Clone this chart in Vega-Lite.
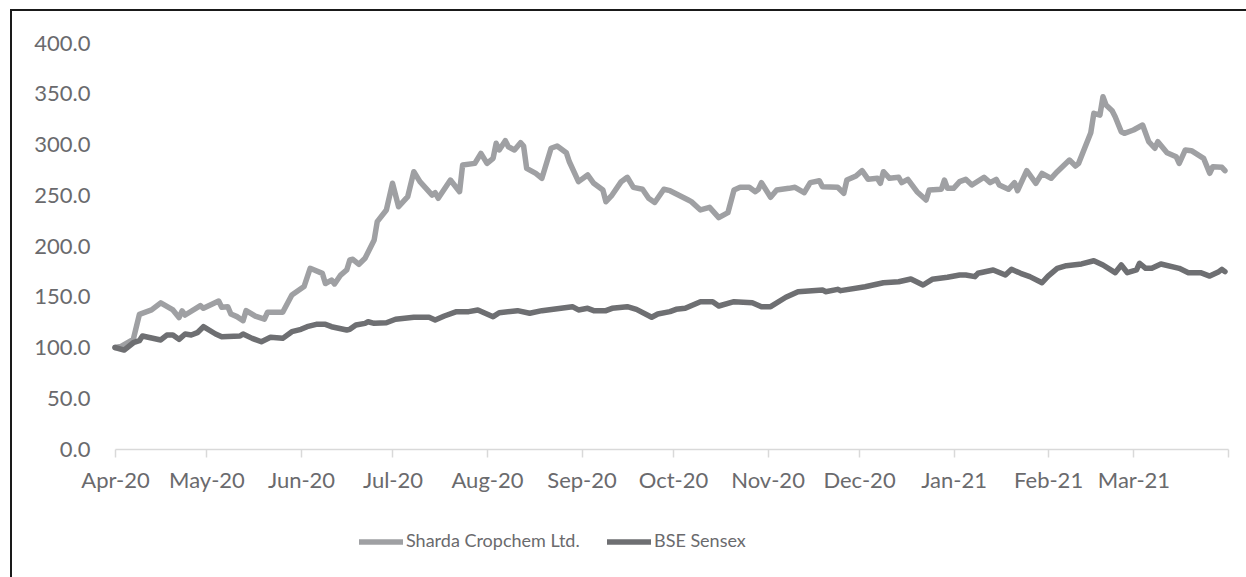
{
"$schema": "https://vega.github.io/schema/vega-lite/v6.json",
"width": 1236, "height": 568,
"autosize": {"type": "none"},
"padding": {"left": 11, "top": 10, "right": 0, "bottom": 0},
"background": "white",
"config": {"view": {"stroke": "#1a1a1a", "strokeWidth": 2}, "font": "Lato"},
"datasets": {
"sharda": [
{"date":"2020-04-01","value":100},{"date":"2020-04-03","value":101},{"date":"2020-04-07","value":108},{"date":"2020-04-09","value":132.7},{"date":"2020-04-13","value":137},{"date":"2020-04-16","value":144},{"date":"2020-04-20","value":137},{"date":"2020-04-22","value":129.4},{"date":"2020-04-23","value":136},{"date":"2020-04-24","value":132},{"date":"2020-04-29","value":141.2},{"date":"2020-04-30","value":138.6},
{"date":"2020-05-05","value":145.8},{"date":"2020-05-06","value":139.6},{"date":"2020-05-08","value":140.2},{"date":"2020-05-09","value":133},{"date":"2020-05-11","value":130.4},{"date":"2020-05-13","value":126.4},{"date":"2020-05-14","value":136.3},{"date":"2020-05-17","value":131},{"date":"2020-05-20","value":128},{"date":"2020-05-21","value":134.7},{"date":"2020-05-26","value":134.7},{"date":"2020-05-29","value":151.7},
{"date":"2020-06-02","value":160},{"date":"2020-06-04","value":178},{"date":"2020-06-08","value":173},{"date":"2020-06-09","value":163},{"date":"2020-06-11","value":166.5},{"date":"2020-06-12","value":162.6},{"date":"2020-06-14","value":171.4},{"date":"2020-06-16","value":176.4},{"date":"2020-06-17","value":186.2},{"date":"2020-06-18","value":186.9},{"date":"2020-06-20","value":182},{"date":"2020-06-22","value":187.9},{"date":"2020-06-25","value":206},{"date":"2020-06-26","value":224},{"date":"2020-06-29","value":235.5},
{"date":"2020-07-01","value":261.8},{"date":"2020-07-03","value":238.7},{"date":"2020-07-06","value":248.6},{"date":"2020-07-08","value":273.2},{"date":"2020-07-10","value":263.4},{"date":"2020-07-14","value":250.2},{"date":"2020-07-15","value":252.5},{"date":"2020-07-16","value":247},{"date":"2020-07-20","value":265},{"date":"2020-07-23","value":253.5},{"date":"2020-07-24","value":279.8},{"date":"2020-07-28","value":281.4},{"date":"2020-07-30","value":291.3},
{"date":"2020-08-01","value":281.4},{"date":"2020-08-03","value":286.4},{"date":"2020-08-04","value":301.2},{"date":"2020-08-05","value":294.6},{"date":"2020-08-07","value":303.8},{"date":"2020-08-08","value":297.8},{"date":"2020-08-10","value":294.6},{"date":"2020-08-12","value":301.8},{"date":"2020-08-13","value":298.5},{"date":"2020-08-14","value":276.5},{"date":"2020-08-17","value":271.6},{"date":"2020-08-19","value":266.7},{"date":"2020-08-22","value":296.3},{"date":"2020-08-24","value":298.5},{"date":"2020-08-27","value":291.9},{"date":"2020-08-28","value":283},{"date":"2020-08-31","value":263.4},
{"date":"2020-09-03","value":270},{"date":"2020-09-05","value":261.8},{"date":"2020-09-08","value":255.2},{"date":"2020-09-09","value":243.6},{"date":"2020-09-11","value":250.2},{"date":"2020-09-14","value":263.4},{"date":"2020-09-16","value":267.7},{"date":"2020-09-18","value":257.8},{"date":"2020-09-21","value":255.9},{"date":"2020-09-23","value":247},{"date":"2020-09-25","value":242.9},{"date":"2020-09-28","value":255.9},{"date":"2020-09-30","value":254.5},
{"date":"2020-10-06","value":245.3},{"date":"2020-10-07","value":243.7},{"date":"2020-10-10","value":235.5},{"date":"2020-10-13","value":238.1},{"date":"2020-10-16","value":227.9},{"date":"2020-10-19","value":232.8},{"date":"2020-10-21","value":255.2},{"date":"2020-10-23","value":257.8},{"date":"2020-10-26","value":257.8},{"date":"2020-10-28","value":253.5},{"date":"2020-10-29","value":255.9},{"date":"2020-10-30","value":262.4},
{"date":"2020-11-02","value":248},{"date":"2020-11-04","value":255.2},{"date":"2020-11-08","value":256.8},{"date":"2020-11-10","value":257.8},{"date":"2020-11-13","value":252.5},{"date":"2020-11-15","value":262.4},{"date":"2020-11-18","value":264.3},{"date":"2020-11-19","value":258.4},{"date":"2020-11-24","value":257.8},{"date":"2020-11-26","value":251.9},{"date":"2020-11-27","value":265},{"date":"2020-11-30","value":269},
{"date":"2020-12-02","value":274.2},{"date":"2020-12-04","value":265.7},{"date":"2020-12-07","value":266.7},{"date":"2020-12-08","value":261.8},{"date":"2020-12-09","value":273.2},{"date":"2020-12-11","value":266.7},{"date":"2020-12-14","value":267.7},{"date":"2020-12-15","value":262.4},{"date":"2020-12-17","value":265.7},{"date":"2020-12-20","value":253.5},{"date":"2020-12-23","value":245.3},{"date":"2020-12-24","value":255.2},{"date":"2020-12-28","value":255.9},{"date":"2020-12-29","value":265},{"date":"2020-12-30","value":256.8},
{"date":"2021-01-01","value":256.8},{"date":"2021-01-03","value":263.4},{"date":"2021-01-05","value":265.7},{"date":"2021-01-07","value":260.1},{"date":"2021-01-11","value":267.7},{"date":"2021-01-13","value":262.4},{"date":"2021-01-15","value":265.7},{"date":"2021-01-16","value":260.1},{"date":"2021-01-19","value":255.9},{"date":"2021-01-21","value":262.4},{"date":"2021-01-22","value":254.5},{"date":"2021-01-25","value":274.2},{"date":"2021-01-28","value":261.8},{"date":"2021-01-30","value":271.6},
{"date":"2021-02-02","value":266.7},{"date":"2021-02-04","value":273.2},{"date":"2021-02-08","value":284.7},{"date":"2021-02-10","value":278.8},{"date":"2021-02-11","value":281.4},{"date":"2021-02-15","value":311.6},{"date":"2021-02-16","value":330.7},{"date":"2021-02-18","value":329},{"date":"2021-02-19","value":347.1},{"date":"2021-02-20","value":338.9},{"date":"2021-02-22","value":333.3},{"date":"2021-02-23","value":327.4},{"date":"2021-02-25","value":312.6},{"date":"2021-02-26","value":311},
{"date":"2021-03-01","value":314.3},{"date":"2021-03-04","value":319.2},{"date":"2021-03-06","value":302.8},{"date":"2021-03-08","value":296.3},{"date":"2021-03-09","value":302.8},{"date":"2021-03-12","value":291.9},{"date":"2021-03-15","value":288},{"date":"2021-03-16","value":281.4},{"date":"2021-03-18","value":294.6},{"date":"2021-03-20","value":293.9},{"date":"2021-03-24","value":286.4},{"date":"2021-03-26","value":271.6},{"date":"2021-03-27","value":278.1},{"date":"2021-03-30","value":277.5},{"date":"2021-03-31","value":274.2}
],
"sensex": [
{"date":"2020-04-01","value":100},{"date":"2020-04-04","value":97.5},{"date":"2020-04-07","value":104.7},{"date":"2020-04-09","value":106.7},{"date":"2020-04-10","value":111.3},{"date":"2020-04-16","value":107.4},{"date":"2020-04-18","value":112.3},{"date":"2020-04-20","value":112.3},{"date":"2020-04-22","value":108},{"date":"2020-04-24","value":113.3},{"date":"2020-04-26","value":112.3},{"date":"2020-04-28","value":114.6},{"date":"2020-04-30","value":120.5},
{"date":"2020-05-04","value":113.3},{"date":"2020-05-06","value":110.6},{"date":"2020-05-12","value":111.3},{"date":"2020-05-13","value":113.3},{"date":"2020-05-16","value":109},{"date":"2020-05-19","value":105.7},{"date":"2020-05-22","value":110},{"date":"2020-05-26","value":109},{"date":"2020-05-29","value":115.6},
{"date":"2020-06-01","value":117.9},{"date":"2020-06-03","value":120.5},{"date":"2020-06-06","value":122.8},{"date":"2020-06-09","value":122.8},{"date":"2020-06-11","value":120.5},{"date":"2020-06-16","value":117.2},{"date":"2020-06-17","value":117.9},{"date":"2020-06-19","value":122.2},{"date":"2020-06-22","value":123.8},{"date":"2020-06-23","value":125.4},{"date":"2020-06-25","value":123.8},{"date":"2020-06-29","value":124.4},
{"date":"2020-07-02","value":127.8},{"date":"2020-07-08","value":129.8},{"date":"2020-07-13","value":129.8},{"date":"2020-07-15","value":127.1},{"date":"2020-07-18","value":131},{"date":"2020-07-22","value":135.3},{"date":"2020-07-26","value":135.3},{"date":"2020-07-29","value":137},
{"date":"2020-08-03","value":130.4},{"date":"2020-08-05","value":134.3},{"date":"2020-08-11","value":136.3},{"date":"2020-08-15","value":133.7},{"date":"2020-08-19","value":136.3},{"date":"2020-08-29","value":140.2},{"date":"2020-08-31","value":137},
{"date":"2020-09-03","value":138.6},{"date":"2020-09-05","value":136.3},{"date":"2020-09-09","value":136.3},{"date":"2020-09-11","value":138.6},{"date":"2020-09-16","value":140.2},{"date":"2020-09-19","value":137.6},{"date":"2020-09-24","value":129.8},{"date":"2020-09-26","value":133},{"date":"2020-09-30","value":135.3},
{"date":"2020-10-02","value":137.6},{"date":"2020-10-05","value":138.6},{"date":"2020-10-10","value":145.1},{"date":"2020-10-14","value":145.1},{"date":"2020-10-16","value":140.9},{"date":"2020-10-21","value":145.1},{"date":"2020-10-27","value":144.1},{"date":"2020-10-30","value":140.2},
{"date":"2020-11-02","value":140.2},{"date":"2020-11-07","value":149.5},{"date":"2020-11-11","value":155},{"date":"2020-11-19","value":156.7},{"date":"2020-11-20","value":155},{"date":"2020-11-24","value":157.3},{"date":"2020-11-25","value":156},
{"date":"2020-12-03","value":159.9},{"date":"2020-12-09","value":163.8},{"date":"2020-12-14","value":164.8},{"date":"2020-12-18","value":167.5},{"date":"2020-12-22","value":161.6},{"date":"2020-12-25","value":167.2},{"date":"2020-12-30","value":169.2},
{"date":"2021-01-03","value":171.4},{"date":"2021-01-05","value":171.4},{"date":"2021-01-08","value":169.8},{"date":"2021-01-09","value":173.1},{"date":"2021-01-14","value":176.4},{"date":"2021-01-18","value":171.4},{"date":"2021-01-20","value":177},{"date":"2021-01-23","value":173.1},{"date":"2021-01-26","value":169.8},{"date":"2021-01-30","value":163.8},
{"date":"2021-02-01","value":170.4},{"date":"2021-02-04","value":178},{"date":"2021-02-07","value":180.6},{"date":"2021-02-12","value":182.3},{"date":"2021-02-16","value":185.5},{"date":"2021-02-19","value":181.3},{"date":"2021-02-23","value":173.7},{"date":"2021-02-25","value":181.3},{"date":"2021-02-27","value":173.7},
{"date":"2021-03-02","value":176.4},{"date":"2021-03-03","value":183},{"date":"2021-03-05","value":178},{"date":"2021-03-07","value":178},{"date":"2021-03-10","value":182.3},{"date":"2021-03-16","value":178},{"date":"2021-03-19","value":173.7},{"date":"2021-03-23","value":173.7},{"date":"2021-03-26","value":170.4},{"date":"2021-03-29","value":174.7},{"date":"2021-03-30","value":177},{"date":"2021-03-31","value":174.7}
]
},
"layer": [
{
"data": {"name": "sharda"},
"transform": [{"calculate": "'Sharda Cropchem Ltd.'", "as": "series"}],
"mark": {"type": "line", "strokeWidth": 5.5, "strokeJoin": "round", "strokeCap": "round"},
"encoding": {
"x": {"field": "date", "type": "temporal",
 "scale": {"type": "utc", "domain": [{"year": 2020, "month": 4, "date": 1, "utc": true}, {"year": 2021, "month": 4, "date": 1, "utc": true}], "range": [104, 1217]},
 "axis": {"title": null, "values": [
 {"year": 2020, "month": 4, "date": 1, "utc": true},{"year": 2020, "month": 5, "date": 1, "utc": true},{"year": 2020, "month": 6, "date": 1, "utc": true},{"year": 2020, "month": 7, "date": 1, "utc": true},{"year": 2020, "month": 8, "date": 1, "utc": true},{"year": 2020, "month": 9, "date": 1, "utc": true},{"year": 2020, "month": 10, "date": 1, "utc": true},{"year": 2020, "month": 11, "date": 1, "utc": true},{"year": 2020, "month": 12, "date": 1, "utc": true},{"year": 2021, "month": 1, "date": 1, "utc": true},{"year": 2021, "month": 2, "date": 1, "utc": true},{"year": 2021, "month": 3, "date": 1, "utc": true},{"year": 2021, "month": 4, "date": 1, "utc": true}],
 "labelExpr": "utcFormat(datum.value, '%b-%y') == 'Apr-21' ? '' : utcFormat(datum.value, '%b-%y')",
 "domainColor": "#d9d9d9", "domainWidth": 1.5, "tickColor": "#d9d9d9", "tickWidth": 1.5, "tickSize": 8,
 "labelPadding": 13, "labelFontSize": 22, "labelFont": "Lato", "labelColor": "#6a6a6d",
 "offset": -129, "grid": false, "labelFlush": false, "labelOverlap": false}},
"y": {"field": "value", "type": "quantitative",
 "scale": {"domain": [0, 400], "range": [439, 33], "nice": false},
 "axis": {"title": null, "values": [0, 50, 100, 150, 200, 250, 300, 350, 400], "format": ".1f",
 "domain": false, "ticks": false, "tickSize": 0, "labelPadding": 0, "offset": -79, "grid": false,
 "labelFontSize": 22, "labelFont": "Lato", "labelColor": "#6a6a6d"}},
"color": {"field": "series", "type": "nominal",
 "scale": {"domain": ["Sharda Cropchem Ltd.", "BSE Sensex"], "range": ["#9fa0a3", "#6e6f72"]},
 "legend": {"title": null, "orient": "none", "legendX": 345, "legendY": 507, "direction": "horizontal",
 "symbolType": "stroke", "symbolSize": 1936, "symbolStrokeWidth": 5.5,
 "labelFont": "Lato", "labelFontSize": 18, "labelColor": "#6a6a6d",
 "labelOffset": 0, "columnPadding": 16, "padding": 0, "labelLimit": 400}}
}
},
{
"data": {"name": "sensex"},
"transform": [{"calculate": "'BSE Sensex'", "as": "series"}],
"mark": {"type": "line", "strokeWidth": 5.5, "strokeJoin": "round", "strokeCap": "round"},
"encoding": {
"x": {"field": "date", "type": "temporal"},
"y": {"field": "value", "type": "quantitative"},
"color": {"field": "series", "type": "nominal"}
}
}
]
}
